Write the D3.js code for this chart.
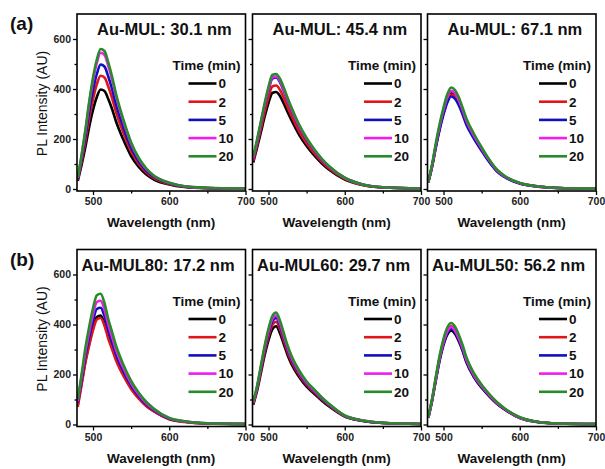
<!DOCTYPE html>
<html>
<head>
<meta charset="utf-8">
<script src="https://cdn.jsdelivr.net/npm/d3@7"></script>
<style>
  body { margin: 0; background: #fff; }
  text { font-family: "Liberation Sans", Arial, sans-serif; }
</style>
</head>
<body>
<script>
/* Values */
const wavelengths = [480,485,490,495,500,505,510,515,520,525,530,540,550,560,570,580,600,620,650,700]
const times = ["0", "2", "5", "10", "20"]
const colors = ["#000000", "#e0161b", "#1010c0", "#f01cf0", "#2a8a2a"]
const panelLabels = ["(a)", "(b)"]
const titles = ["Au-MUL: 30.1 nm", "Au-MUL: 45.4 nm", "Au-MUL: 67.1 nm",
                "Au-MUL80: 17.2 nm", "Au-MUL60: 29.7 nm", "Au-MUL50: 56.2 nm"]
const yTicks = [0, 200, 400, 600]
const yMinor = [100, 300, 500]
const xTicks = [500, 600, 700]
const xMinor = [550, 650]

/* one row per time: 0, 2, 5, 10, 20 min */
const mul30 = [
  [32,96,168,248,316,368,398,392,360,320,272,196,132,88,58,38,18,8,3,1],
  [36,109,191,282,359,419,453,446,410,364,309,223,150,100,66,43,20,9,4,1],
  [40,120,210,310,395,460,498,490,450,400,340,245,165,110,73,48,23,10,4,2],
  [44,132,230,340,433,504,545,537,493,438,373,269,181,121,79,52,25,11,4,2],
  [45,135,236,349,445,518,560,552,507,450,383,276,186,124,82,53,25,11,5,2]
]
const mul45 = [
  [106,165,227,290,345,384,388,372,342,308,276,218,172,134,102,76,38,18,6,2],
  [113,176,242,309,368,410,414,397,365,328,294,232,183,143,109,81,41,19,6,2],
  [122,189,261,333,396,441,446,427,393,354,317,250,197,154,117,87,44,21,7,2],
  [123,191,264,337,400,446,450,432,397,358,320,253,200,156,118,88,44,21,7,2],
  [130,198,270,344,409,456,460,441,406,365,327,259,204,159,121,90,45,21,7,2]
]
const mul67 = [
  [27,92,173,246,308,358,383,373,347,308,266,208,158,112,73,50,23,12,4,2],
  [27,91,171,243,304,353,378,369,342,304,262,205,156,110,72,49,23,11,4,2],
  [26,89,167,238,298,346,370,361,335,298,257,201,153,108,71,48,22,11,4,1],
  [28,95,178,253,316,367,393,383,356,316,273,213,162,115,75,51,24,12,4,2],
  [29,98,184,261,326,379,406,396,367,326,282,220,167,118,78,53,24,12,4,2]
]
const mul80 = [
  [80,165,253,323,385,430,436,404,352,308,264,198,145,106,75,53,22,11,4,2],
  [70,158,247,316,377,420,426,396,344,301,258,194,142,103,73,52,21,10,4,2],
  [88,178,274,349,415,462,467,434,378,330,283,212,156,113,80,57,23,12,5,2],
  [93,190,290,370,440,490,495,460,400,350,300,225,165,120,85,60,25,12,5,2],
  [100,200,306,391,465,517,523,486,422,370,317,238,174,127,90,63,26,13,5,2]
]
const mul60 = [
  [79,135,206,278,337,381,393,365,322,278,242,191,151,123,95,71,32,16,6,2],
  [83,141,216,290,353,398,411,382,336,290,253,199,158,129,100,75,33,17,6,2],
  [86,146,224,301,366,413,426,396,348,301,262,206,163,133,103,77,34,17,6,2],
  [88,150,229,308,374,422,436,405,356,308,268,211,167,136,106,79,35,18,7,2],
  [92,154,235,316,384,434,448,416,366,316,276,217,172,140,108,81,36,18,7,2]
]
const mul50 = [
  [26,95,178,257,318,359,376,363,333,295,249,189,147,113,83,60,26,11,4,2],
  [28,99,186,269,332,375,393,379,348,308,261,198,154,119,87,63,28,12,4,2],
  [27,96,181,262,323,366,383,370,339,300,254,193,150,116,85,62,27,12,4,2],
  [27,98,184,267,329,372,390,376,345,306,259,196,153,118,86,63,27,12,4,2],
  [29,102,192,277,343,388,406,392,359,318,269,204,159,122,90,65,29,12,4,2]
]
const panelData = [mul30, mul45, mul67, mul80, mul60, mul50]

/* Layout */
const width = 605, height = 469
const colLeft = [77, 252.5, 427.5], panelW = 168.5
const rowTop = [14, 249.5], panelH = 177

var svg = d3.select("body").append("svg")
    .attr("width", width)
    .attr("height", height)

svg.append("rect").attr("width", width).attr("height", height).attr("fill", "#fff")

panelData.forEach((series, i) => {
  var row = Math.floor(i / 3), col = i % 3
  var left = colLeft[col], top = rowTop[row]

  var x = d3.scaleLinear().domain([479, 700]).range([left, left + panelW])
  var y = d3.scaleLinear().domain([-8, 700]).range([top + panelH, top])

  var g = svg.append("g").attr("class", "panel")

  /*Clip the curves to the plot box*/
  g.append("clipPath").attr("id", "clip" + i)
    .append("rect").attr("x", left).attr("y", top).attr("width", panelW).attr("height", panelH)

  var line = d3.line()
      .x((d, k) => x(wavelengths[k]))
      .y(d => y(d))
      .curve(d3.curveMonotoneX)

  g.append("g").attr("clip-path", "url(#clip" + i + ")")
    .selectAll("path")
    .data(series)
    .enter()
    .append("path")
      .attr("d", line)
      .attr("fill", "none")
      .attr("stroke", (d, k) => colors[k])
      .attr("stroke-width", 2.6)
      .attr("stroke-linejoin", "round")

  /*Axes*/
  g.append("g").attr("transform", "translate(" + left + ",0)")
      .call(d3.axisLeft(y).tickValues(yTicks).tickSize(4).tickPadding(2)
        .tickFormat(col === 0 ? d3.format("d") : ""))
  g.append("g").attr("transform", "translate(" + left + ",0)")
      .call(d3.axisLeft(y).tickValues(yMinor).tickSize(2.5).tickFormat(""))
  g.append("g").attr("transform", "translate(0," + (top + panelH) + ")")
      .call(d3.axisBottom(x).tickValues(xTicks).tickSize(4).tickPadding(3))
  g.append("g").attr("transform", "translate(0," + (top + panelH) + ")")
      .call(d3.axisBottom(x).tickValues(xMinor).tickSize(2.5).tickFormat(""))

  g.selectAll(".domain").remove()
  g.selectAll(".tick line").attr("stroke", "#000").attr("stroke-width", 1.3)
  g.selectAll(".tick text")
      .attr("fill", "#222")
      .style("font-size", "10.5px")
      .style("font-weight", "bold")

  /*Frame*/
  g.append("rect")
      .attr("x", left).attr("y", top)
      .attr("width", panelW).attr("height", panelH)
      .attr("fill", "none")
      .attr("stroke", "#000")
      .attr("stroke-width", 1.6)

  /*Panel title*/
  g.append("text")
      .attr("x", left + (row === 0 ? 20 : 4.5))
      .attr("y", top + 21)
      .attr("fill", "#111")
      .style("font-size", "16.5px")
      .style("font-weight", "bold")
      .text(titles[i])

  /*X label*/
  g.append("text")
      .attr("x", left + panelW / 2)
      .attr("y", top + panelH + 36)
      .attr("text-anchor", "middle")
      .attr("fill", "#111")
      .style("font-size", "13.5px")
      .style("font-weight", "bold")
      .text("Wavelength (nm)")

  /*Legend*/
  var right = left + panelW
  g.append("text")
      .attr("x", right - 5)
      .attr("y", top + 56)
      .attr("text-anchor", "end")
      .attr("fill", "#111")
      .style("font-size", "13.5px")
      .style("font-weight", "bold")
      .text("Time (min)")

  var item = g.selectAll(".legendItem")
      .data(times)
      .enter()
      .append("g")
        .attr("class", "legendItem")
        .attr("transform", (d, k) => "translate(0," + (top + 69.5 + k * 18.2) + ")")

  item.append("line")
      .attr("x1", right - 57).attr("x2", right - 29)
      .attr("stroke", (d, k) => colors[k])
      .attr("stroke-width", 2.6)

  item.append("text")
      .attr("x", right - 27)
      .attr("dy", "0.36em")
      .attr("fill", "#111")
      .style("font-size", "13.5px")
      .style("font-weight", "bold")
      .text(d => d)

  /*Y label on first column only*/
  if (col === 0) {
    g.append("text")
        .attr("transform", "translate(47," + (top + panelH / 2 + 1) + ") rotate(-90)")
        .attr("text-anchor", "middle")
        .attr("fill", "#111")
        .style("font-size", "14px")
        .text("PL Intensity (AU)")
  }
})

/*Row labels*/
svg.selectAll(".rowLabel")
    .data(panelLabels)
    .enter()
    .append("text")
      .attr("class", "rowLabel")
      .attr("x", 10)
      .attr("y", (d, k) => rowTop[k] + 16)
      .attr("fill", "#111")
      .style("font-size", "19px")
      .style("font-weight", "bold")
      .text(d => d)
</script>
</body>
</html>
